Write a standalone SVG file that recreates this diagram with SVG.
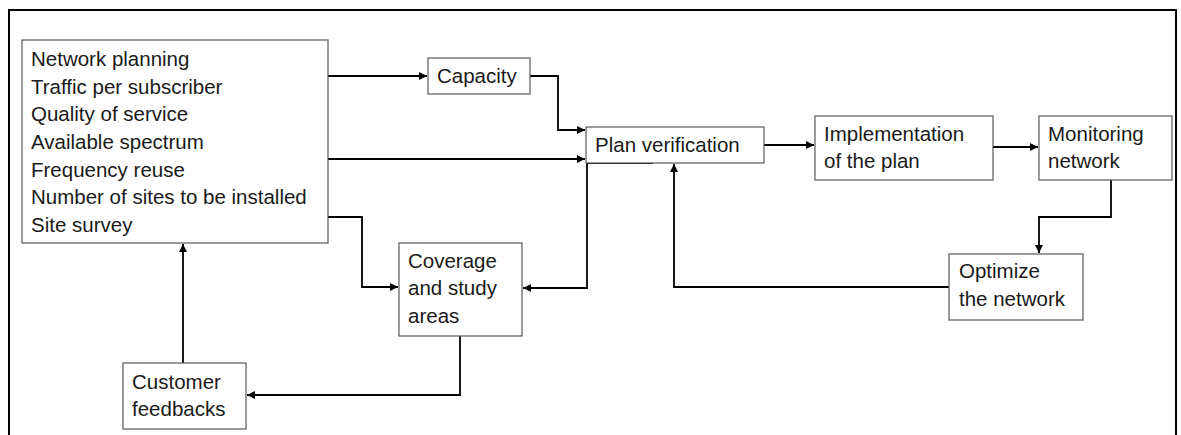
<svg xmlns="http://www.w3.org/2000/svg" width="1181" height="435" viewBox="0 0 1181 435">
<style>
.box{fill:#fff;stroke:#595959;stroke-width:1.2}
.t{font-family:"Liberation Sans",Arial,sans-serif;font-size:20.5px;fill:#1a1a1a}
.c{fill:none;stroke:#000;stroke-width:1.8}
</style>
<defs>
<marker id="ah" markerWidth="8" markerHeight="8" refX="6" refY="3" orient="auto" markerUnits="userSpaceOnUse" viewBox="0 0 6 6">
<path d="M0,0 L6,3 L0,6 Z" fill="#000"/>
</marker>
</defs>
<rect width="1181" height="435" fill="#fff"/>
<path d="M9,435 V10 H1176 V435" fill="none" stroke="#000" stroke-width="2"/>
<g id="connectors">
<path class="c" d="M328,76 H427" marker-end="url(#ah)"/>
<path class="c" d="M530,76 H558 V130 H585" marker-end="url(#ah)"/>
<path class="c" d="M328,159 H585" marker-end="url(#ah)"/>
<path class="c" d="M328,217 H362 V287 H398" marker-end="url(#ah)"/>
<path class="c" d="M653,163 H587 V288 H523" marker-end="url(#ah)"/>
<path class="c" d="M460,336 V395 H247" marker-end="url(#ah)"/>
<path class="c" d="M183,363 V244" marker-end="url(#ah)"/>
<path class="c" d="M764,145 H814" marker-end="url(#ah)"/>
<path class="c" d="M993,147 H1038" marker-end="url(#ah)"/>
<path class="c" d="M1111,180 V217 H1039 V253" marker-end="url(#ah)"/>
<path class="c" d="M949,287 H674 V164" marker-end="url(#ah)"/>
</g>
<g id="planning">
<rect class="box" x="22" y="40" width="306" height="203"/>
<text class="t" x="31" y="66">Network planning</text>
<text class="t" x="31" y="94">Traffic per subscriber</text>
<text class="t" x="31" y="121">Quality of service</text>
<text class="t" x="31" y="149">Available spectrum</text>
<text class="t" x="31" y="177">Frequency reuse</text>
<text class="t" x="31" y="204">Number of sites to be installed</text>
<text class="t" x="31" y="232">Site survey</text>
</g>
<g id="capacity">
<rect class="box" x="428" y="58" width="102" height="36"/>
<text class="t" x="437" y="83">Capacity</text>
</g>
<g id="plan-verification">
<rect class="box" x="586" y="127" width="178" height="36"/>
<text class="t" x="595" y="152">Plan verification</text>
</g>
<g id="implementation">
<rect class="box" x="815" y="116" width="178" height="64"/>
<text class="t" x="824" y="141">Implementation</text>
<text class="t" x="824" y="168">of the plan</text>
</g>
<g id="monitoring">
<rect class="box" x="1039" y="116" width="133" height="64"/>
<text class="t" x="1048" y="141">Monitoring</text>
<text class="t" x="1048" y="168">network</text>
</g>
<g id="optimize">
<rect class="box" x="949" y="254" width="134" height="66"/>
<text class="t" x="959" y="278">Optimize</text>
<text class="t" x="959" y="306">the network</text>
</g>
<g id="coverage">
<rect class="box" x="399" y="243" width="123" height="93"/>
<text class="t" x="408" y="268">Coverage</text>
<text class="t" x="408" y="295">and study</text>
<text class="t" x="408" y="323">areas</text>
</g>
<g id="customer">
<rect class="box" x="123" y="363" width="123" height="66"/>
<text class="t" x="132" y="389">Customer</text>
<text class="t" x="132" y="416">feedbacks</text>
</g>
</svg>
